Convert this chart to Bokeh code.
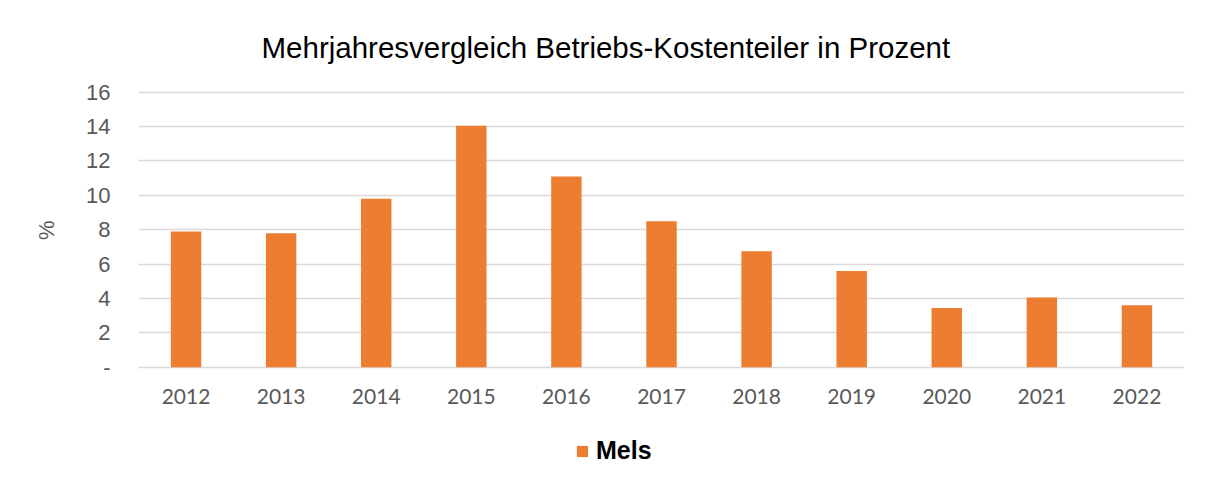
from bokeh.plotting import figure
from bokeh.models import ColumnDataSource, Range1d, FactorRange, FixedTicker, Legend, LegendItem, Title
from bokeh.embed import file_html
from bokeh.resources import INLINE

years = ["2012", "2013", "2014", "2015", "2016", "2017", "2018", "2019", "2020", "2021", "2022"]
mels = [7.9, 7.8, 9.8, 14.05, 11.1, 8.5, 6.75, 5.6, 3.45, 4.05, 3.6]
y_ticks = [0, 2, 4, 6, 8, 10, 12, 14, 16]
y_tick_labels = {0: "-"}

ORANGE = "#ED7D31"
GREY_TXT = "#595959"

src = ColumnDataSource(dict(year=years, value=mels))

# frame extends below the zero line so the legend (drawn in the frame) is not clipped
p = figure(
    frame_width=1046, frame_height=388,
    x_range=FactorRange(factors=years, range_padding=0),
    y_range=Range1d(-6.474, 16.1),
    output_backend="svg", toolbar_location=None,
    min_border_left=138, min_border_right=21,
    min_border_top=90, min_border_bottom=0,
)

r = p.vbar(x="year", top="value", bottom=0, width=0.32, source=src,
           fill_color=ORANGE, line_color=None)

p.title.text = "Mehrjahresvergleich Betriebs-Kostenteiler in Prozent"
p.title.align = "left"
p.title.offset = 123
p.title.text_font = "Liberation Sans"
p.title.text_font_size = "29.5px"
p.title.text_font_style = "normal"
p.title.text_color = "#000000"
p.title.standoff = 54

p.outline_line_color = None
p.xgrid.grid_line_color = None
p.ygrid.grid_line_color = "#D9D9D9"
p.ygrid.grid_line_width = 1.5

ya = p.yaxis[0]
ya.ticker = FixedTicker(ticks=y_ticks)
ya.major_label_overrides = y_tick_labels
ya.axis_line_color = None
ya.major_tick_line_color = None
ya.minor_tick_line_color = None
ya.major_tick_out = 0
ya.major_label_standoff = 28
ya.major_label_text_font = "Liberation Sans"
ya.major_label_text_font_size = "22px"
ya.major_label_text_color = GREY_TXT

# y-axis title "%" placed along the value part of the axis
p.add_layout(Title(text="%", align="right", offset=130, standoff=49,
                   text_font="Liberation Sans", text_font_size="22px",
                   text_font_style="normal", text_color=GREY_TXT), "left")

xa = p.xaxis[0]
xa.fixed_location = 0
xa.axis_line_color = None
xa.major_tick_line_color = None
xa.minor_tick_line_color = None
xa.major_tick_out = 0
xa.major_label_standoff = 22
xa.major_label_text_font = "Lato"
xa.major_label_text_font_size = "21px"
xa.major_label_text_color = GREY_TXT

legend = Legend(items=[LegendItem(label="Mels", renderers=[r])],
                orientation="horizontal", location=(437, 13))
legend.label_text_font = "Liberation Sans"
legend.label_text_font_style = "bold"
legend.label_text_font_size = "25px"
legend.label_text_color = "#000000"
legend.glyph_width = 14
legend.glyph_height = 14
legend.label_standoff = 7
legend.border_line_color = None
legend.background_fill_alpha = 0
legend.margin = 0
legend.padding = 0
p.add_layout(legend)

open("out.html", "w").write(file_html(p, INLINE))
